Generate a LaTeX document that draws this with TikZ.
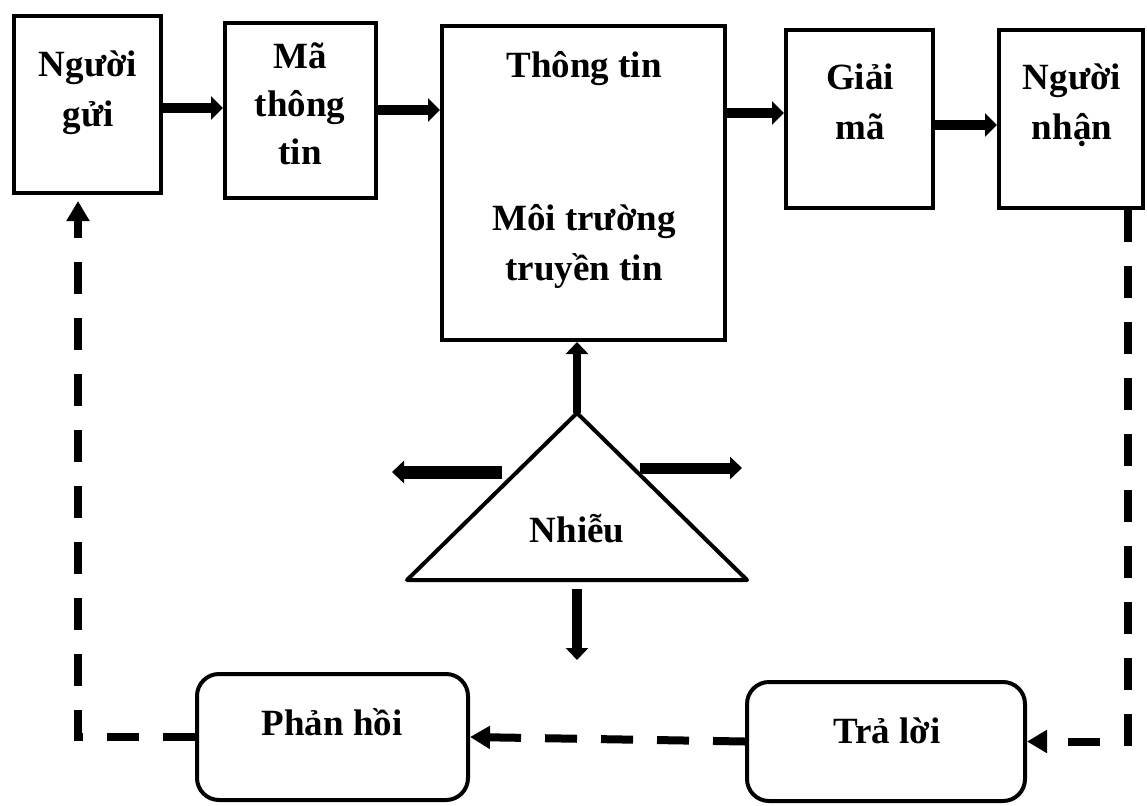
\documentclass[tikz,border=0pt]{standalone}
\usepackage{fontspec}
\setmainfont{Liberation Serif}
\usetikzlibrary{arrows.meta}

\newcommand{\lines}[1]{\begin{tabular}[t]{@{}c@{}}#1\end{tabular}}

\begin{document}
\begin{tikzpicture}[x=1pt,y=-1pt,
  box/.style={draw, line width=4pt, rectangle, inner sep=0pt},
  softbox/.style={draw, line width=4pt, rectangle, rounded corners=22pt, inner sep=0pt},
  txt/.style={anchor=base, inner sep=0pt, font=\fontsize{37}{50}\selectfont\bfseries},
  flow/.style={line width=10pt, -{Triangle[length=12pt,width=23pt]}},
  noise/.style={line width=#1, -{Triangle[length=12pt,width=22pt]}},
  reply/.style={line width=8pt, dash pattern=on 32pt off 24pt, -{Triangle[length=20pt,width=22pt]}},
]
\useasboundingbox (0,0) rectangle (1147,805);

% main chain of boxes
\node[box, minimum width=147pt, minimum height=177pt] (b1) at (87.5,104.5) {};
\node[box, minimum width=151pt, minimum height=175pt] (b2) at (300.5,110.5) {};
\node[box, minimum width=283pt, minimum height=314pt] (b3) at (583.5,183) {};
\node[box, minimum width=147pt, minimum height=178pt] (b4) at (859.5,119) {};
\node[box, minimum width=144pt, minimum height=178pt] (b5) at (1071,119) {};

\node[txt] (t1) at (88,77) {\lines{Người\\gửi}};
\node[txt] (t2) at (300,69) {\lines{Mã\\[-2pt]thông\\[-2pt]tin}};
\node[txt] (t3a) at (584,78) {Thông tin};
\node[txt] (t3b) at (584,230) {\lines{Môi trường\\truyền tin}};
\node[txt] (t4) at (860,90) {\lines{Giải\\mã}};
\node[txt] (t5) at (1072,90) {\lines{Người\\nhận}};

% arrows along the chain
\draw[flow] (b1.east |- 0,108) -- (b2.west |- 0,108);
\draw[flow] (b2.east |- 0,110) -- (b3.west |- 0,110);
\draw[flow] (b3.east |- 0,113) -- (b4.west |- 0,113);
\draw[flow] (b4.east |- 0,125) -- (b5.west |- 0,125);

% noise triangle
\coordinate (apex) at (577,413);
\coordinate (bl) at (407,580);
\coordinate (br) at (747,580);
\draw[line width=4pt, line join=round] (apex) -- (bl) -- (br) -- cycle;
\node[txt] (nh) at (577,542) {Nhiễu};

\coordinate (lfrom) at (502,472);
\coordinate (lto) at (392,472);
\coordinate (rfrom) at (640,468);
\coordinate (rto) at (742,468);
\coordinate (dfrom) at (577,589);
\coordinate (dto) at (577,660);
\draw[noise=8pt] (apex) -- (apex |- b3.south);
\draw[noise=13pt] (lfrom) -- (lto);
\draw[noise=11pt] (rfrom) -- (rto);
\draw[noise=10pt] (dfrom) -- (dto);

% feedback boxes
\node[softbox, minimum width=271pt, minimum height=126pt] (r1) at (332.5,737) {};
\node[softbox, minimum width=278pt, minimum height=119pt] (r2) at (886,741.5) {};
\node[txt] (tr1) at (332,735) {Phản hồi};
\node[txt] (tr2) at (887,743) {Trả lời};

% dashed feedback loop
\draw[reply] (b5.south -| 1128,0) |- (r2.east);
\draw[reply] (r2.west) -- (r1.east);
\draw[reply, shorten >=6pt] (r1.west) -| (b1.south -| 78,0);
\end{tikzpicture}
\end{document}
